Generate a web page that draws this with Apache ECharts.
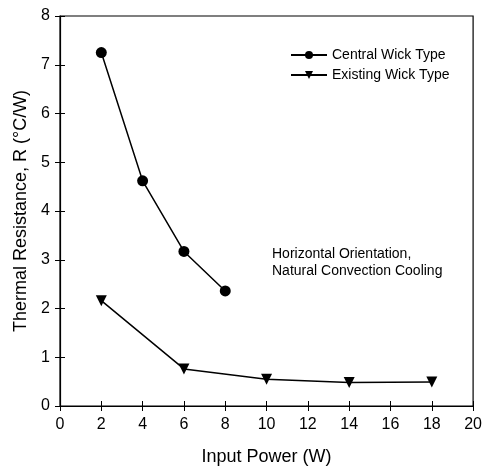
<!DOCTYPE html>
<html>
<head>
<meta charset="utf-8">
<script src="https://cdn.jsdelivr.net/npm/echarts@6/dist/echarts.min.js"></script>
<style>
  html, body { margin: 0; padding: 0; background: #fff; }
  #chart { width: 485px; height: 471px; }
</style>
</head>
<body>
<div id="chart"></div>
<script>
var centralX = [2, 4, 6, 8];
var centralR = [7.25, 4.62, 3.17, 2.36];
var existingX = [2, 6, 10, 14, 18];
var existingR = [2.16, 0.76, 0.55, 0.48, 0.49];

function pairs(xs, ys) {
    return xs.map(function (x, i) { return [x, ys[i]]; });
}

var font = 'Liberation Sans, Arial, sans-serif';
var chart = echarts.init(document.getElementById('chart'));
var option = {
    backgroundColor: '#fff',
    animation: false,
    textStyle: { fontFamily: font },
    grid: {
        left: 60, right: 8, top: 16, bottom: 62,
        show: true, borderColor: '#000', borderWidth: 1.2
    },
    legend: {
        data: ['Central Wick Type', 'Existing Wick Type'],
        orient: 'vertical',
        left: 285, top: 43,
        itemWidth: 36, itemHeight: 10, itemGap: 6,
        textStyle: { color: '#000', fontSize: 14, fontFamily: font }
    },
    xAxis: [{
        type: 'value', min: 0, max: 20, interval: 2,
        name: 'Input Power (W)', nameLocation: 'middle', nameGap: 42,
        nameTextStyle: { fontSize: 18, color: '#000' },
        axisLine: { lineStyle: { color: '#000', width: 1.2 } },
        axisTick: { inside: true, length: 5, lineStyle: { color: '#000' } },
        axisLabel: { fontSize: 16, color: '#000', margin: 11 },
        splitLine: { show: false }
    }, {
        type: 'value', min: 0, max: 20, interval: 2, position: 'top',
        axisLine: { show: false },
        axisTick: { inside: true, length: 5, lineStyle: { color: '#000' } },
        axisLabel: { show: false }, splitLine: { show: false }
    }],
    yAxis: [{
        type: 'value', min: 0, max: 8, interval: 1,
        name: 'Thermal Resistance, R (°C/W)', nameLocation: 'middle', nameGap: 30,
        nameTextStyle: { fontSize: 18, color: '#000' },
        axisLine: { show: true, lineStyle: { color: '#000', width: 1.2 } },
        axisTick: { show: true, inside: true, length: 5, lineStyle: { color: '#000' } },
        axisLabel: { fontSize: 16, color: '#000', margin: 10 },
        splitLine: { show: false }
    }, {
        type: 'value', min: 0, max: 8, interval: 1, position: 'right',
        axisLine: { show: false },
        axisTick: { show: true, inside: true, length: 5, lineStyle: { color: '#000' } },
        axisLabel: { show: false }, splitLine: { show: false }
    }],
    graphic: [{
        type: 'text', left: 272, top: 246,
        style: {
            text: 'Horizontal Orientation,\nNatural Convection Cooling',
            font: '14px ' + font, fill: '#000', lineHeight: 17
        }
    }],
    series: [{
        name: 'Central Wick Type', type: 'line',
        data: pairs(centralX, centralR),
        symbol: 'circle', symbolSize: 11,
        lineStyle: { color: '#000', width: 1.5 },
        itemStyle: { color: '#000' }
    }, {
        name: 'Existing Wick Type', type: 'line',
        data: pairs(existingX, existingR),
        symbol: 'triangle', symbolSize: 11, symbolRotate: 180,
        lineStyle: { color: '#000', width: 1.5 },
        itemStyle: { color: '#000' }
    }]
};
chart.setOption(option);
</script>
</body>
</html>
